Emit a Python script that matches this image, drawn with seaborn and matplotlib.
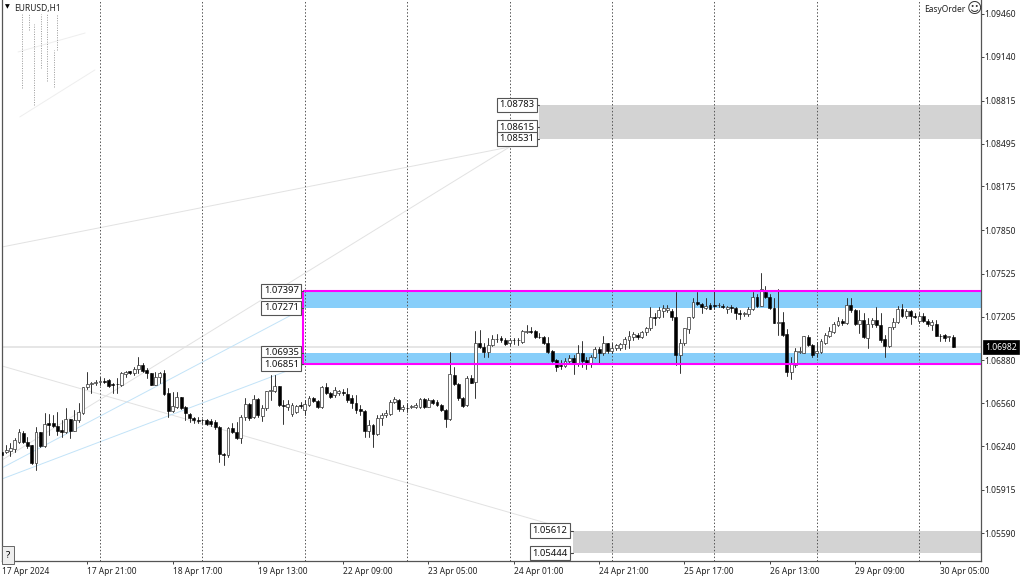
import matplotlib
matplotlib.use("Agg")
import matplotlib.pyplot as plt
import numpy as np
import pandas as pd
import seaborn as sns

# EURUSD H1 candles, in points (1e-5)
open_pts = [
    106199, 106194, 106207, 106217, 106274, 106341, 106274, 106246, 106112, 106343,
    106244, 106410, 106410, 106390, 106361, 106348, 106440, 106356, 106435, 106490,
    106678, 106703, 106713, 106721, 106726, 106731, 106701, 106703, 106698, 106775,
    106798, 106783, 106812, 106845, 106808, 106783, 106696, 106758, 106783, 106634,
    106505, 106534, 106604, 106534, 106480, 106452, 106438, 106435, 106435, 106428,
    106420, 106385, 106182, 106174, 106373, 106343, 106304, 106455, 106552, 106455,
    106589, 106467, 106522, 106654, 106651, 106688, 106544, 106534, 106480, 106497,
    106547, 106510, 106547, 106596, 106577, 106529, 106683, 106639, 106621, 106634,
    106641, 106626, 106596, 106564, 106515, 106505, 106351, 106400, 106331, 106448,
    106472, 106480, 106572, 106584, 106515, 106527, 106529, 106534, 106534, 106592,
    106534, 106584, 106572, 106547, 106510, 106443, 106770, 106701, 106596, 106544,
    106750, 106718, 107011, 106976, 106944, 106994, 107036, 107044, 107032, 107007,
    107032, 107029, 107019, 107094, 107099, 107099, 107056, 107051, 107012, 106950,
    106883, 106843, 106840, 106878, 106895, 106863, 106932, 106883, 106858, 106902,
    106962, 106932, 107007, 106947, 106969, 106969, 107002, 107032, 107056, 107069,
    107056, 107089, 107118, 107205, 107205, 107250, 107255, 107250, 107200, 106920,
    107007, 107111, 107200, 107312, 107297, 107272, 107292, 107292, 107290, 107285,
    107260, 107277, 107272, 107233, 107223, 107223, 107260, 107354, 107287, 107392,
    107354, 107272, 107156, 107168, 107074, 106796, 106845, 106942, 106937, 107056,
    106994, 106937, 106945, 107007, 107064, 107094, 107143, 107173, 107156, 107292,
    107255, 107151, 107181, 107044, 107148, 107181, 107143, 107037, 106987, 107126,
    107166, 107260, 107213, 107248, 107210, 107173, 107210, 107173, 107143, 107148,
    107064, 107069, 107054, 107056,
]
high_pts = [
    106212, 106249, 106261, 106299, 106366, 106356, 106311, 106246, 106380, 106343,
    106485, 106480, 106472, 106497, 106435, 106527, 106440, 106510, 106559, 106683,
    106795, 106721, 106733, 106753, 106745, 106738, 106708, 106745, 106793, 106800,
    106803, 106832, 106902, 106857, 106820, 106783, 106795, 106795, 106808, 106671,
    106646, 106646, 106609, 106539, 106490, 106460, 106455, 106440, 106443, 106440,
    106435, 106390, 106187, 106385, 106410, 106423, 106472, 106596, 106559, 106621,
    106596, 106547, 106651, 106770, 106770, 106688, 106584, 106584, 106559, 106547,
    106572, 106584, 106614, 106609, 106584, 106688, 106708, 106646, 106683, 106659,
    106664, 106671, 106621, 106621, 106547, 106510, 106435, 106405, 106472, 106485,
    106510, 106584, 106609, 106589, 106547, 106559, 106547, 106559, 106596, 106596,
    106596, 106589, 106584, 106554, 106515, 106944, 106832, 106708, 106604, 106763,
    106770, 107101, 107106, 107006, 107043, 107068, 107076, 107061, 107044, 107044,
    107044, 107044, 107106, 107143, 107131, 107106, 107086, 107061, 107056, 106957,
    106888, 106883, 106895, 106920, 106920, 106994, 107027, 106902, 106920, 106977,
    106977, 107064, 107012, 107007, 107002, 107012, 107056, 107099, 107094, 107081,
    107101, 107131, 107275, 107230, 107280, 107292, 107292, 107260, 107387, 107037,
    107118, 107205, 107347, 107387, 107305, 107342, 107305, 107399, 107305, 107297,
    107285, 107292, 107280, 107255, 107243, 107275, 107392, 107374, 107533, 107434,
    107374, 107342, 107409, 107243, 107111, 106902, 106969, 106977, 107061, 107069,
    107002, 107019, 107037, 107081, 107131, 107168, 107205, 107188, 107342, 107342,
    107260, 107255, 107235, 107193, 107198, 107275, 107230, 107069, 107131, 107193,
    107285, 107297, 107260, 107255, 107230, 107230, 107230, 107186, 107181, 107181,
    107074, 107074, 107064, 107069,
]
low_pts = [
    106100, 106187, 106167, 106199, 106266, 106261, 106224, 106107, 106063, 106236,
    106236, 106323, 106380, 106323, 106311, 106336, 106299, 106356, 106423, 106480,
    106666, 106639, 106696, 106696, 106708, 106678, 106639, 106639, 106688, 106758,
    106778, 106770, 106783, 106795, 106745, 106696, 106696, 106708, 106621, 106460,
    106497, 106522, 106515, 106435, 106423, 106415, 106410, 106410, 106398, 106390,
    106366, 106125, 106100, 106157, 106336, 106291, 106266, 106435, 106435, 106447,
    106460, 106430, 106510, 106584, 106641, 106539, 106403, 106510, 106465, 106490,
    106522, 106472, 106539, 106569, 106522, 106522, 106629, 106601, 106609, 106621,
    106621, 106572, 106522, 106485, 106472, 106311, 106311, 106236, 106323, 106398,
    106460, 106472, 106559, 106505, 106505, 106497, 106522, 106527, 106527, 106527,
    106529, 106554, 106539, 106505, 106380, 106435, 106696, 106584, 106529, 106539,
    106708, 106596, 106969, 106902, 106902, 106986, 107019, 107019, 106994, 106994,
    107002, 106994, 107012, 107081, 107081, 107044, 107044, 107002, 106937, 106870,
    106803, 106813, 106828, 106858, 106776, 106838, 106833, 106813, 106828, 106895,
    106863, 106920, 106932, 106932, 106957, 106957, 106962, 106969, 107032, 107037,
    107044, 107069, 107106, 107143, 107193, 107205, 107243, 107181, 106845, 106783,
    106994, 107081, 107193, 107292, 107230, 107260, 107260, 107260, 107275, 107267,
    107235, 107243, 107186, 107186, 107210, 107210, 107255, 107280, 107285, 107342,
    107260, 107156, 107069, 107061, 106763, 106739, 106833, 106932, 106932, 106987,
    106907, 106902, 106937, 107002, 107056, 107081, 107136, 107143, 107151, 107243,
    107143, 107081, 107044, 106969, 107126, 107131, 107019, 106902, 106982, 107111,
    107156, 107205, 107193, 107151, 107193, 107156, 107168, 107136, 107106, 107061,
    107027, 107027, 107024, 106977,
]
close_pts = [
    106174, 106212, 106224, 106286, 106348, 106271, 106244, 106117, 106343, 106244,
    106403, 106400, 106390, 106356, 106346, 106440, 106356, 106435, 106497, 106683,
    106703, 106713, 106718, 106726, 106721, 106688, 106698, 106701, 106783, 106795,
    106785, 106812, 106845, 106803, 106788, 106698, 106758, 106783, 106626, 106502,
    106539, 106604, 106522, 106485, 106452, 106435, 106430, 106433, 106405, 106405,
    106385, 106182, 106174, 106373, 106343, 106304, 106455, 106552, 106452, 106589,
    106472, 106522, 106651, 106659, 106688, 106547, 106539, 106554, 106547, 106539,
    106542, 106552, 106596, 106577, 106529, 106683, 106639, 106609, 106659, 106654,
    106636, 106584, 106559, 106510, 106505, 106353, 106395, 106331, 106448, 106472,
    106485, 106572, 106589, 106515, 106529, 106522, 106539, 106547, 106589, 106534,
    106584, 106564, 106547, 106510, 106443, 106775, 106701, 106596, 106539, 106750,
    106713, 107011, 106976, 106944, 106994, 107038, 107038, 107032, 107002, 107032,
    107029, 107034, 107099, 107099, 107094, 107056, 107054, 107012, 106945, 106878,
    106833, 106838, 106878, 106895, 106863, 106932, 106878, 106858, 106907, 106962,
    106932, 107007, 106950, 106972, 106994, 107002, 107037, 107061, 107074, 107056,
    107094, 107118, 107205, 107198, 107255, 107267, 107272, 107200, 106920, 107007,
    107118, 107205, 107312, 107297, 107275, 107287, 107265, 107287, 107295, 107280,
    107275, 107272, 107230, 107228, 107230, 107262, 107354, 107287, 107409, 107354,
    107272, 107161, 107168, 107069, 106796, 106863, 106950, 106947, 107061, 106994,
    106920, 106950, 107024, 107069, 107099, 107148, 107176, 107161, 107292, 107255,
    107151, 107181, 107056, 107148, 107181, 107143, 107032, 106987, 107126, 107168,
    107260, 107213, 107248, 107213, 107205, 107210, 107173, 107148, 107163, 107064,
    107061, 107049, 107059, 106982,
]

tick_bars = list(range(1, 222, 20))
time_labels = ["17 Apr 2024", "17 Apr 21:00", "18 Apr 17:00", "19 Apr 13:00", "22 Apr 09:00",
               "23 Apr 05:00", "24 Apr 01:00", "24 Apr 21:00", "25 Apr 17:00", "26 Apr 13:00",
               "29 Apr 09:00", "30 Apr 05:00"]
price_ticks = [1.09460, 1.09140, 1.08815, 1.08495, 1.08175, 1.07850, 1.07525,
               1.07205, 1.06880, 1.06560, 1.06240, 1.05915, 1.05590]
period_bars = list(range(24, 217, 24))

# zones: low, high, first bar
blue_zones = [(1.07271, 1.07397), (1.06851, 1.06935)]
grey_zones = [(1.08531, 1.08783, 126.9), (1.05444, 1.05612, 134.9)]
last_price = 1.06982

# trend lines: bar0, price0, bar1, price1
grey_lines = [(1, 1.07724, 120, 1.08469), (1, 1.06137, 120, 1.08469), (1, 1.06838, 130.2, 1.05653)]
faint_lines = [(4.8, 1.09177, 20.5, 1.09318), (5.2, 1.08693, 22.8, 1.09043)]
blue_lines = [(1, 1.06078, 72, 1.07270), (1, 1.05996, 72, 1.06851)]
ghost_bars = [5.8, 7.4, 8.6, 10.1, 11.5, 13.3, 14.0]
ghost_top = [1.09460, 1.09460, 1.09385, 1.09460, 1.09460, 1.09192, 1.09460]
ghost_bottom = [1.08909, 1.09341, 1.08782, 1.09058, 1.08961, 1.08916, 1.09192]

sns.set_theme(style="white")
plt.rcParams['font.family'] = ['Noto Sans', 'DejaVu Sans']

fig = plt.figure(figsize=(10.24, 5.76), dpi=100)
ax = fig.add_axes([1.5 / 1024, 1 - 561 / 576, 979 / 1024, 561 / 576])

o = np.array(open_pts) / 1e5
h = np.array(high_pts) / 1e5
l = np.array(low_pts) / 1e5
c = np.array(close_pts) / 1e5
bars = np.arange(1, len(o) + 1)

# overlays behind the candles
for lo, hi in blue_zones:
    ax.axhspan(lo, hi, xmin=(71.6 - 0.906) / (230.4 - 0.906), color='#87CEFA', lw=0, zorder=1)
for lo, hi, start in grey_zones:
    ax.axhspan(lo, hi, xmin=(start - 0.906) / (230.4 - 0.906), color='#D3D3D3', lw=0, zorder=1)
ax.axhline(last_price, color='#e4e4e4', lw=1.3, zorder=1)
ax.vlines(period_bars, 1.05385, 1.09564, color='#555555', lw=0.7, linestyles=(0, (1.5, 2)), zorder=1.5)
for b0, p0, b1, p1 in grey_lines:
    ax.plot([b0, b1], [p0, p1], color='#e2e2e2', lw=0.7, zorder=1.2)
for b0, p0, b1, p1 in faint_lines:
    ax.plot([b0, b1], [p0, p1], color='#eeeeee', lw=0.7, zorder=1.2)
for b0, p0, b1, p1 in blue_lines:
    ax.plot([b0, b1], [p0, p1], color='#c2e3f8', lw=0.7, zorder=1.2)
ax.vlines(ghost_bars, ghost_bottom, ghost_top, color='#777777', lw=0.5, linestyles=(0, (1.5, 2)), zorder=1.5)

# wicks through seaborn, one unit per candle
wicks = pd.DataFrame({'bar': np.r_[bars, bars], 'price': np.r_[h, l]})
sns.lineplot(data=wicks, x='bar', y='price', units='bar', estimator=None, color='#333333',
             lw=0.7, ax=ax, legend=False, zorder=2)

# bodies
up = c >= o
body_bot = np.minimum(o, c)
body_h = np.maximum(np.abs(c - o), 0.00002)
ax.bar(bars[up], body_h[up], bottom=body_bot[up], width=0.68, color='white', edgecolor='#333333', lw=0.5, zorder=3)
ax.bar(bars[~up], body_h[~up], bottom=body_bot[~up], width=0.68, color='black', edgecolor='black', lw=0.4, zorder=3)

# magenta frame of the zone
ax.hlines([blue_zones[0][1], blue_zones[1][0]], 71.6, 230.4, color='#FF00FF', lw=1.5, zorder=4)
ax.vlines(71.6, blue_zones[1][0], blue_zones[0][1], color='#FF00FF', lw=1.5, zorder=4)

# price boxes with their little connectors
box = dict(boxstyle='square,pad=0.28', fc='white', ec='#555555', lw=0.8)
for bar_pos, end, prices in [(66.5, 71.6, [1.07397, 1.07271, 1.06935, 1.06851]),
                             (121.7, 126.9, [1.08783, 1.08615, 1.08531]),
                             (129.5, 134.9, [1.05612, 1.05444])]:
    for p in prices:
        ax.plot([bar_pos, end], [p, p], color='#444444', lw=0.8, zorder=4.5)
        ax.text(bar_pos, p, f"{p:.5f}", fontsize=6.8, color='#111111', ha='center', va='center',
                bbox=box, zorder=5)

ax.set_xlim(0.906, 230.4)
ax.set_ylim(1.05385, 1.09564)
ax.set_xlabel('')
ax.set_ylabel('')
ax.yaxis.tick_right()
ax.set_yticks(price_ticks, [f"{p:.5f}" for p in price_ticks])
ax.set_xticks(tick_bars, time_labels, ha='left')
ax.tick_params(axis='y', length=2.2, width=0.7, color='#444444', labelsize=6.15, labelcolor='#222222', pad=0.8, right=True)
ax.tick_params(axis='x', length=2.5, width=0.7, color='#444444', labelsize=6.05, labelcolor='#222222', pad=1.5, bottom=True)
ax.spines['top'].set_visible(False)
for side in ['left', 'right', 'bottom']:
    ax.spines[side].set_color('#555555')
    ax.spines[side].set_linewidth(0.9)

# chart furniture
fig.text(14 / 1024, 1 - 8 / 576, "EURUSD,H1", fontsize=6.1, color='#222222', va='center')
fig.text(5 / 1024, 1 - 7 / 576, "\u25BC", fontsize=4.5, color='black', va='center', family='DejaVu Sans')
fig.text(924 / 1024, 1 - 9 / 576, "EasyOrder", fontsize=6.05, color='#222222', va='center')
fig.text(967 / 1024, 1 - 8.5 / 576, "\u263A", fontsize=10.5, color='#333333', va='center', family='DejaVu Sans')
fig.text(8 / 1024, 1 - 555 / 576, "?", fontsize=7, color='black', va='center', ha='center',
         bbox=dict(boxstyle='square,pad=0.42', fc='#eeeeee', ec='#666666', lw=0.7))
fig.text(1001 / 1024, 1 - 347 / 576, f"{last_price:.5f}", fontsize=6.2, color='white', ha='center', va='center',
         bbox=dict(boxstyle='square,pad=0.28', fc='black', ec='black', lw=0.5))

fig.savefig('out.png', dpi=100)
